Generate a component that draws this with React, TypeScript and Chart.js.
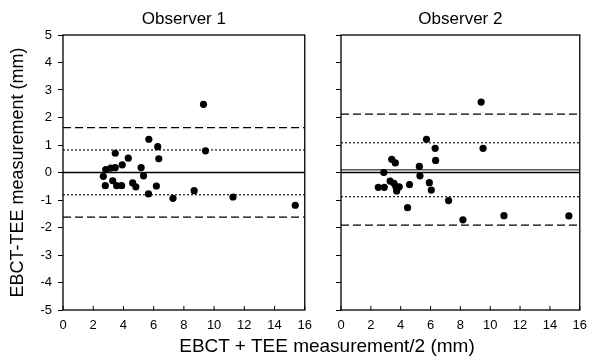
import React, { useEffect, useRef } from 'react';
import { Chart, registerables } from 'chart.js';

Chart.register(...registerables);

const FONT = '"Liberation Sans", Arial, Helvetica, sans-serif';

// Axis ranges / ticks
const xRange = [0, 16];
const yRange = [-5, 5];
const xStep = 2;
const yStep = 1;

// Observer 1 data
const obs1X = [9.30, 9.43, 5.68, 6.27, 6.34, 3.46, 4.32, 3.92, 3.46, 3.16, 2.83, 2.67, 2.80, 3.29, 3.55, 3.88, 4.61, 4.82, 5.17, 5.33, 5.66, 6.18, 7.28, 8.68, 11.25, 15.37];
const obs1Y = [2.48, 0.79, 1.21, 0.94, 0.50, 0.70, 0.52, 0.28, 0.18, 0.16, 0.11, -0.14, -0.48, -0.30, -0.48, -0.48, -0.38, -0.52, 0.18, -0.12, -0.78, -0.49, -0.94, -0.66, -0.89, -1.19];
const obs1Dashed = [1.63, -1.62];
const obs1Dotted = [0.82, -0.81];
const obs1Solid = [0];
const obs1Mean: number[] = [];

// Observer 2 data
const obs2X = [9.39, 9.52, 5.73, 6.31, 6.34, 3.40, 3.64, 5.25, 2.87, 5.29, 2.50, 2.90, 3.29, 3.55, 3.68, 3.90, 3.73, 4.59, 4.46, 5.92, 6.05, 7.21, 8.17, 10.92, 15.27];
const obs2Y = [2.56, 0.88, 1.21, 0.88, 0.44, 0.48, 0.35, 0.22, 0.00, -0.12, -0.54, -0.54, -0.31, -0.39, -0.52, -0.52, -0.67, -0.44, -1.28, -0.37, -0.64, -1.02, -1.72, -1.57, -1.58];
const obs2Dashed = [2.12, -1.91];
const obs2Dotted = [1.08, -0.88];
const obs2Solid = [0];
const obs2Mean = [0.1];

const titles = ['Observer 1', 'Observer 2'];
const yTitle = 'EBCT-TEE measurement (mm)';
const xTitle = 'EBCT + TEE measurement/2 (mm)';

const boxPlugin = {
  id: 'boxAndTicks',
  afterDatasetsDraw(chart: any) {
    const { ctx, chartArea: a, scales } = chart;
    ctx.save();
    ctx.strokeStyle = '#000';
    ctx.lineWidth = 1.3;
    ctx.strokeRect(a.left, a.top, a.right - a.left, a.bottom - a.top);
    const xs = scales.x;
    ctx.lineWidth = 1;
    xs.ticks.forEach((t: any) => {
      const px = xs.getPixelForValue(t.value);
      ctx.beginPath();
      ctx.moveTo(px, a.bottom);
      ctx.lineTo(px, a.bottom - 4);
      ctx.stroke();
    });
    ctx.restore();
  },
};

function hLine(v: number, dash: number[], width: number, color: string) {
  return {
    data: [{ x: xRange[0], y: v }, { x: xRange[1], y: v }],
    showLine: true,
    pointRadius: 0,
    borderColor: color,
    borderWidth: width,
    borderDash: dash,
    order: 2,
  };
}

interface PanelProps {
  xs: number[];
  ys: number[];
  dashed: number[];
  dotted: number[];
  solid: number[];
  mean: number[];
  title: string;
  showYLabels: boolean;
  width: number;
  height: number;
  yAxisWidth: number;
  padRight: number;
}

function Panel(p: PanelProps) {
  const ref = useRef<HTMLCanvasElement | null>(null);
  useEffect(() => {
    if (!ref.current) return;
    const datasets: any[] = [];
    p.dashed.forEach((v) => datasets.push(hLine(v, [8, 4], 1.3, '#000')));
    p.dotted.forEach((v) => datasets.push(hLine(v, [2, 2], 1.1, '#000')));
    p.mean.forEach((v) => datasets.push(hLine(v, [], 1.6, '#555')));
    p.solid.forEach((v) => datasets.push(hLine(v, [], 1.4, '#000')));
    datasets.push({
      data: p.xs.map((x, i) => ({ x, y: p.ys[i] })),
      pointRadius: 3.6,
      pointBackgroundColor: '#000',
      pointBorderWidth: 0,
      borderColor: '#000',
      showLine: false,
      order: 1,
    });
    const chart = new Chart(ref.current, {
      type: 'scatter',
      data: { datasets },
      options: {
        responsive: false,
        animation: false,
        events: [],
        layout: { padding: { top: 0, left: 0, right: p.padRight, bottom: 0 } },
        plugins: {
          legend: { display: false },
          tooltip: { enabled: false },
          title: {
            display: true,
            text: p.title,
            fullSize: false,
            color: '#000',
            font: { size: 17, family: FONT, weight: 'normal' },
            padding: { top: 9, bottom: 5.6 },
          },
        },
        scales: {
          x: {
            type: 'linear',
            min: xRange[0],
            max: xRange[1],
            grid: { display: false, drawTicks: false, tickLength: 0 },
            border: { display: false },
            ticks: {
              stepSize: xStep,
              color: '#000',
              padding: 8,
              maxRotation: 0,
              font: { size: 13, family: FONT },
            },
            afterFit: (s: any) => {
              s.height = 30;
            },
          },
          y: {
            type: 'linear',
            min: yRange[0],
            max: yRange[1],
            grid: {
              display: true,
              drawOnChartArea: false,
              drawTicks: true,
              tickLength: 5,
              color: '#000',
              lineWidth: 1,
            },
            border: { display: false },
            ticks: {
              stepSize: yStep,
              color: '#000',
              padding: 6,
              font: { size: 13, family: FONT },
              callback: (v: any) => (p.showYLabels ? String(v) : ''),
            },
            title: p.showYLabels
              ? {
                  display: true,
                  text: yTitle,
                  color: '#000',
                  font: { size: 18, family: FONT },
                  padding: { top: 7, bottom: 0 },
                }
              : { display: false },
            afterFit: (s: any) => {
              s.width = p.yAxisWidth;
            },
          },
        },
      } as any,
      plugins: [boxPlugin],
    });
    return () => chart.destroy();
  }, []);
  return <canvas ref={ref} width={p.width} height={p.height} style={{ display: 'block', width: p.width, height: p.height }} />;
}

export default function App() {
  return (
    <div style={{ position: 'absolute', left: 0, top: 0, width: 595, height: 360, background: '#fff', overflow: 'hidden', fontFamily: FONT }}>
      <div style={{ position: 'absolute', left: 0, top: 0 }}>
        <Panel xs={obs1X} ys={obs1Y} dashed={obs1Dashed} dotted={obs1Dotted} solid={obs1Solid} mean={obs1Mean}
          title={titles[0]} showYLabels={true} width={320} height={340} yAxisWidth={63} padRight={14} />
      </div>
      <div style={{ position: 'absolute', left: 320, top: 0 }}>
        <Panel xs={obs2X} ys={obs2Y} dashed={obs2Dashed} dotted={obs2Dotted} solid={obs2Solid} mean={obs2Mean}
          title={titles[1]} showYLabels={false} width={275} height={340} yAxisWidth={21} padRight={9} />
      </div>
      <div style={{ position: 'absolute', left: 327, top: 335, transform: 'translateX(-50%)', whiteSpace: 'nowrap', fontSize: 19, lineHeight: '22px', color: '#000' }}>
        {xTitle}
      </div>
    </div>
  );
}
